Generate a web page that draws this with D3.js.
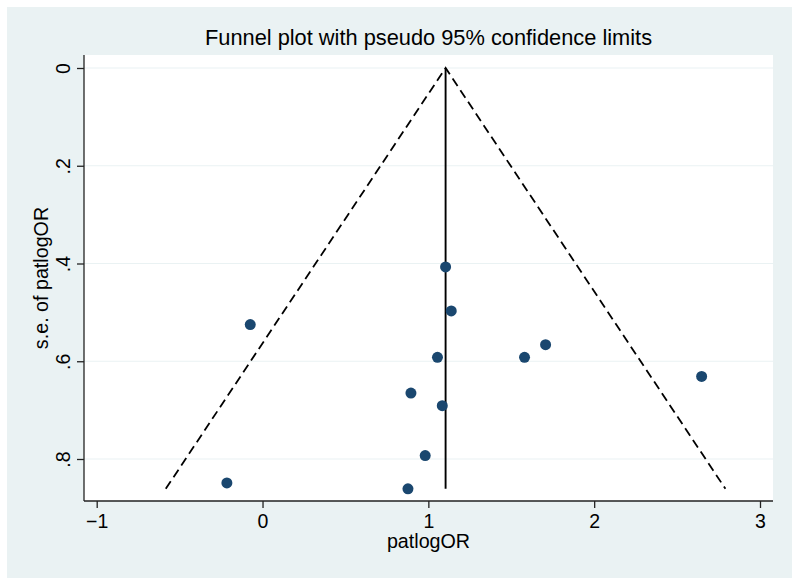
<!DOCTYPE html>
<html>
<head>
<meta charset="utf-8">
<script src="https://cdn.jsdelivr.net/npm/d3@7"></script>
<style>
  body { margin: 0; background: #fff; }
  svg text { font-family: "Liberation Sans", Arial, Helvetica, sans-serif; fill: #000; }
</style>
</head>
<body>
<div id="chart"></div>
<script>
// study estimates
const logOR = [1.104, 1.138, -0.074, 1.055, 1.580, 1.707, 0.895, 1.084, -0.215, 0.877, 0.981, 2.648];
const seLogOR = [0.407, 0.497, 0.525, 0.592, 0.592, 0.566, 0.665, 0.691, 0.849, 0.861, 0.793, 0.631];
const pooled = 1.104;
const xTicks = [-1, 0, 1, 2, 3];
const yTicks = [0, 0.2, 0.4, 0.6, 0.8];
const yTickLabels = ["0", ".2", ".4", ".6", ".8"];

const width = 800, height = 586;
const plot = { left: 84, right: 773, top: 55, bottom: 501 };

const svg = d3.select("#chart").append("svg")
  .attr("width", width)
  .attr("height", height);

// outer graph region
svg.append("rect")
  .attr("x", 7).attr("y", 7)
  .attr("width", 785).attr("height", 571)
  .attr("fill", "#eaf2f3");

svg.append("rect")
  .attr("x", plot.left).attr("y", plot.top)
  .attr("width", plot.right - plot.left).attr("height", plot.bottom - plot.top)
  .attr("fill", "#fff");

const x = d3.scaleLinear().domain([-1, 3]).range([96.7, 760]);
const y = d3.scaleLinear().domain([0, 0.8]).range([68, 459]);

// grid
svg.append("g").selectAll("line").data(yTicks).join("line")
  .attr("x1", plot.left).attr("x2", plot.right)
  .attr("y1", d => y(d)).attr("y2", d => y(d))
  .attr("stroke", "#eaf2f3").attr("stroke-width", 1.2);

// axes
const xAxis = svg.append("g")
  .attr("transform", `translate(0,${plot.bottom})`)
  .call(d3.axisBottom(x).tickValues(xTicks).tickSize(7).tickPadding(4)
    .tickFormat(d => d < 0 ? "\u2212" + Math.abs(d) : d));
xAxis.select(".domain").attr("d", `M${plot.left},0H${plot.right}`).attr("stroke", "#222").attr("stroke-width", 1.3);
xAxis.selectAll(".tick line").attr("stroke", "#222").attr("stroke-width", 1.3);
xAxis.selectAll(".tick text").attr("font-size", 19.5).attr("dy", "0.8em");

const yAxis = svg.append("g")
  .attr("transform", `translate(${plot.left},0)`)
  .call(d3.axisLeft(y).tickValues(yTicks).tickSize(7)
    .tickFormat((d, i) => yTickLabels[i]));
yAxis.select(".domain").attr("d", `M0,${plot.top}V${plot.bottom}`).attr("stroke", "#222").attr("stroke-width", 1.3);
yAxis.selectAll(".tick line").attr("stroke", "#222").attr("stroke-width", 1.3);
yAxis.selectAll(".tick text")
  .attr("font-size", 19.5)
  .attr("x", null).attr("dy", null)
  .attr("text-anchor", "middle")
  .attr("transform", "translate(-14,0) rotate(-90)");

// pseudo 95% confidence limits
const seMax = d3.max(seLogOR);
const funnel = [
  [[pooled - 1.96 * seMax, seMax], [pooled, 0], [pooled + 1.96 * seMax, seMax]]
];
svg.append("path")
  .attr("d", d3.line().x(d => x(d[0])).y(d => y(d[1]))(funnel[0]))
  .attr("fill", "none").attr("stroke", "#000")
  .attr("stroke-width", 1.8).attr("stroke-dasharray", "9,5");

svg.append("line")
  .attr("x1", x(pooled)).attr("x2", x(pooled))
  .attr("y1", y(0)).attr("y2", y(seMax))
  .attr("stroke", "#000").attr("stroke-width", 1.9);

// studies
svg.append("g").selectAll("circle").data(logOR).join("circle")
  .attr("cx", d => x(d))
  .attr("cy", (d, i) => y(seLogOR[i]))
  .attr("r", 5.5)
  .attr("fill", "#1a476f");

// titles
svg.append("text")
  .attr("x", (plot.left + plot.right) / 2).attr("y", 45)
  .attr("text-anchor", "middle").attr("font-size", 21.8)
  .text("Funnel plot with pseudo 95% confidence limits");

svg.append("text")
  .attr("x", (plot.left + plot.right) / 2).attr("y", 548)
  .attr("text-anchor", "middle").attr("font-size", 19.7)
  .text("patlogOR");

svg.append("text")
  .attr("transform", `translate(48,${(plot.top + plot.bottom) / 2}) rotate(-90)`)
  .attr("text-anchor", "middle").attr("font-size", 19.7)
  .text("s.e. of patlogOR");
</script>
</body>
</html>
